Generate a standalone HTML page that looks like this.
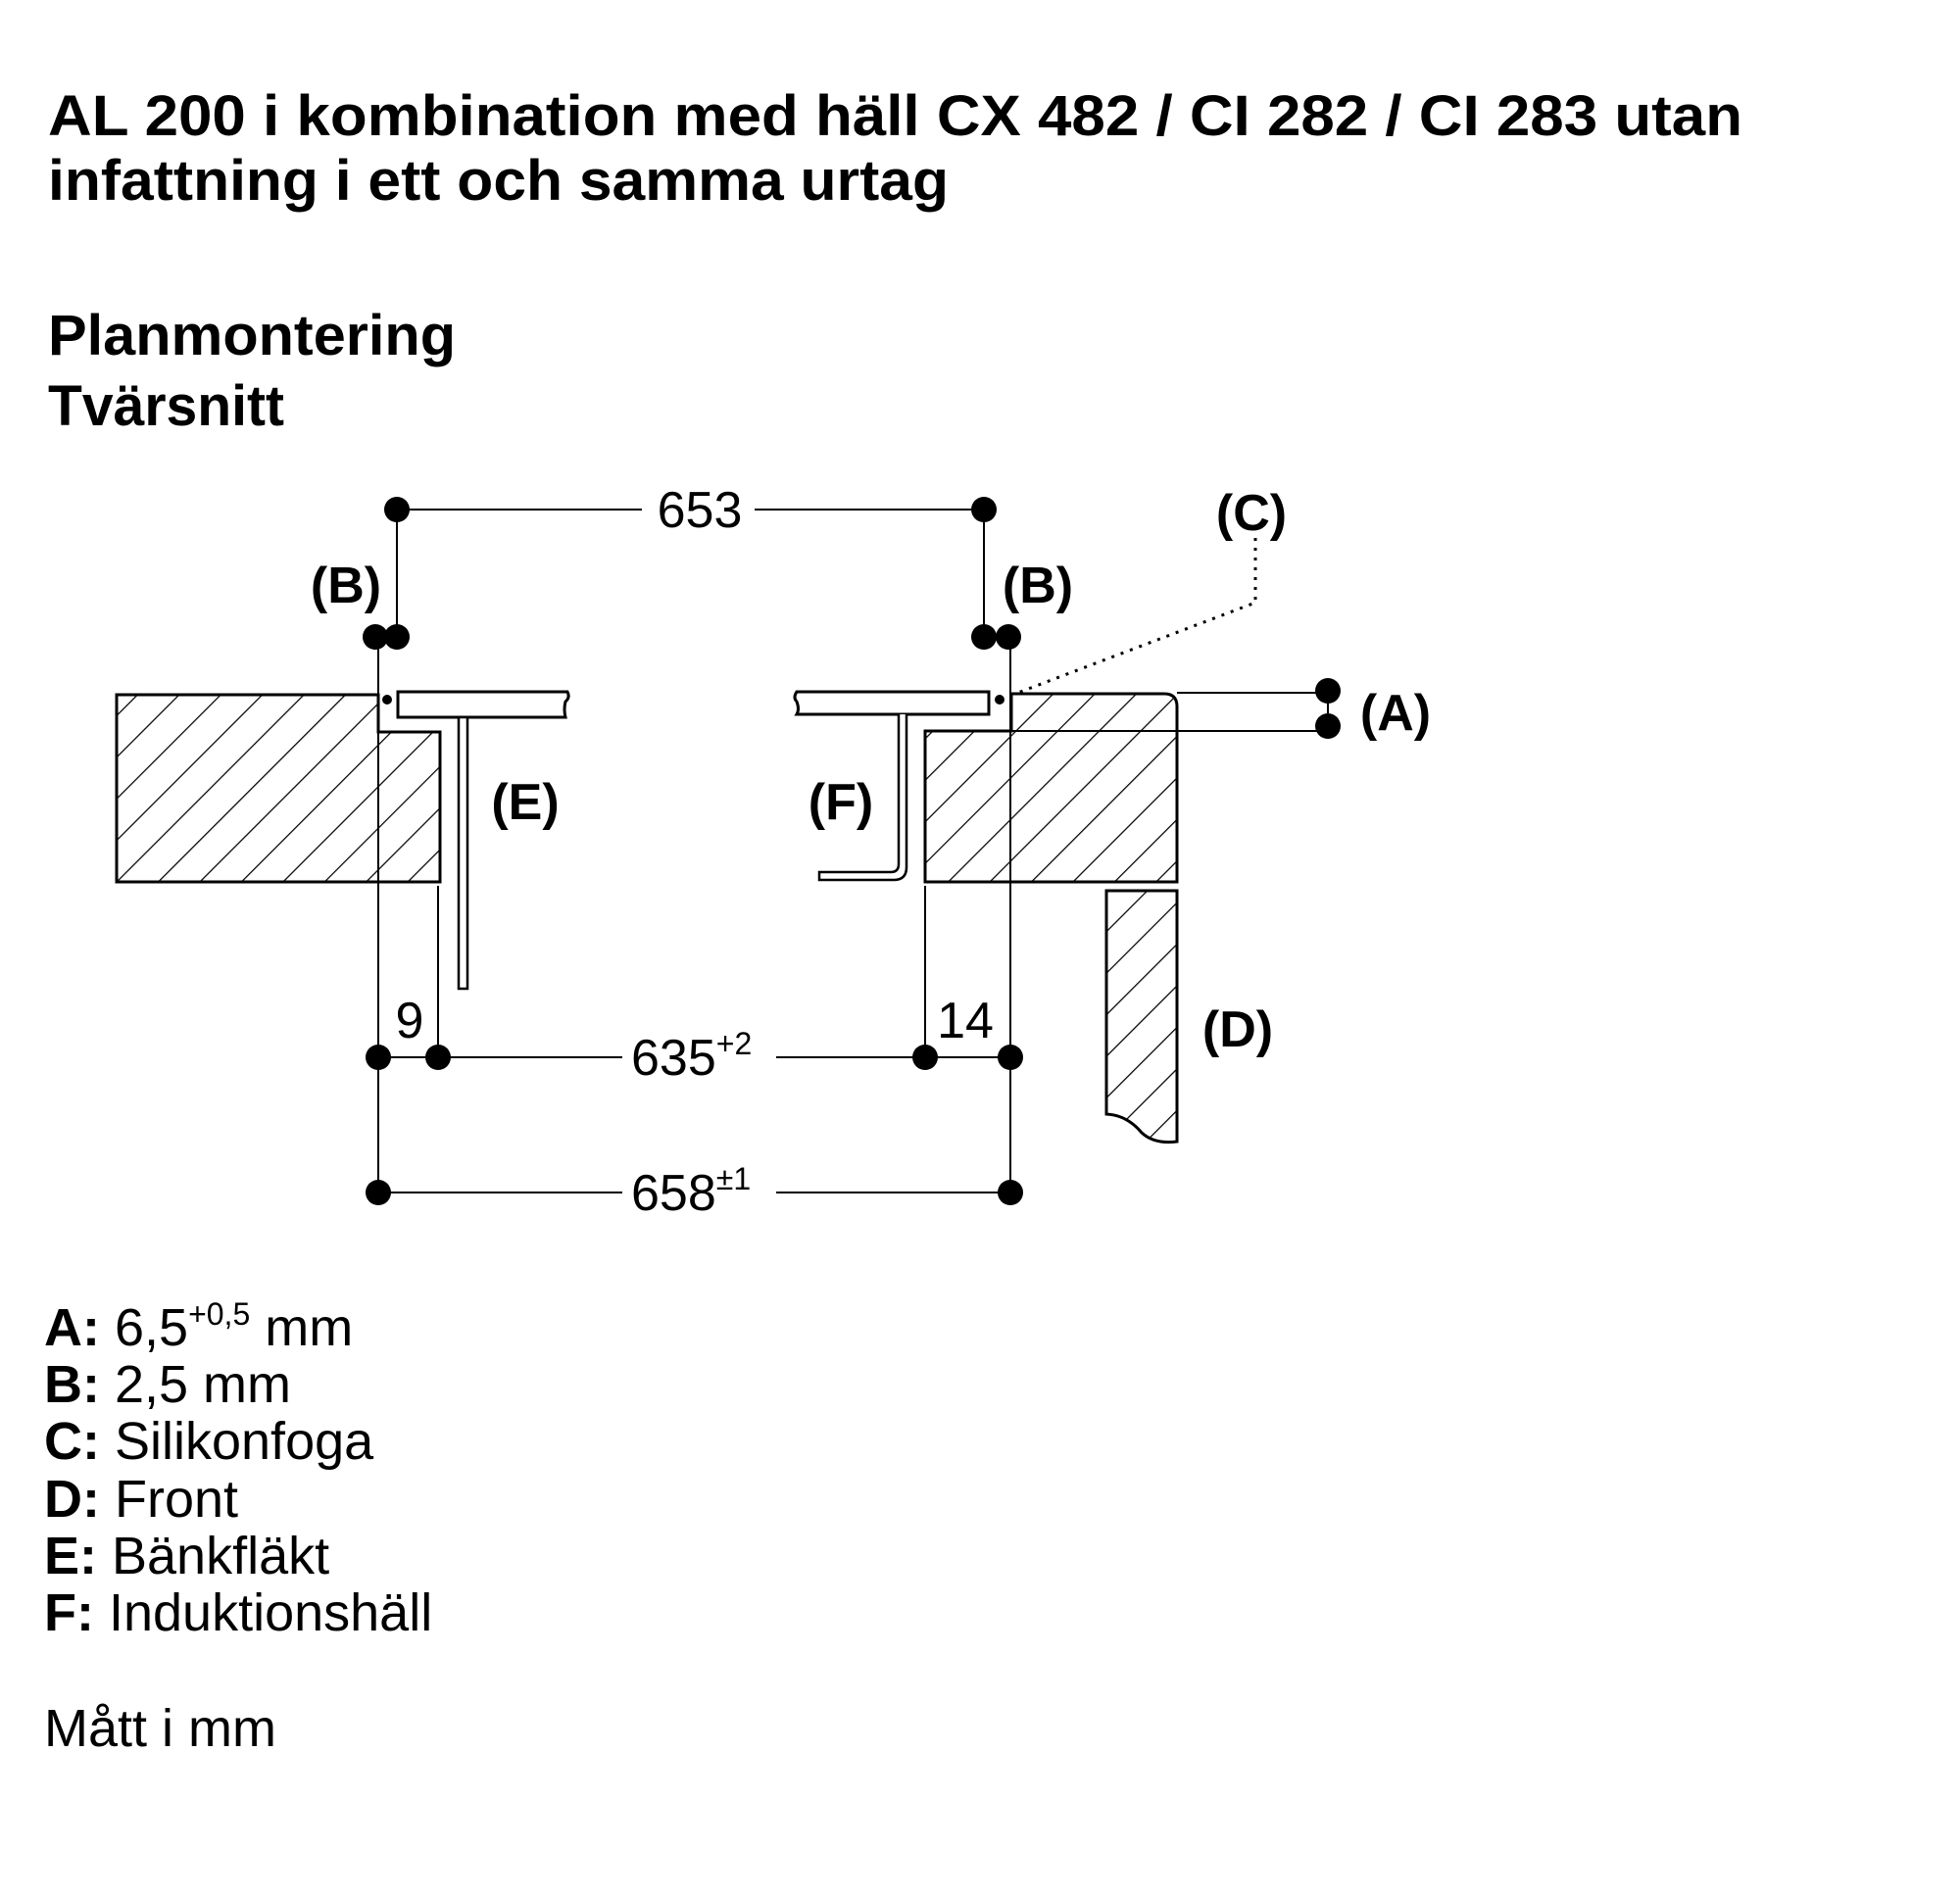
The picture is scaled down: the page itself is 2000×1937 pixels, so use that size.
<!DOCTYPE html>
<html><head><meta charset="utf-8"><style>html,body{margin:0;padding:0;background:#fff}svg{display:block}</style></head>
<body>
<svg width="2000" height="1937" viewBox="0 0 2000 1937" xmlns="http://www.w3.org/2000/svg" font-family="Liberation Sans, Arial, sans-serif">
<defs>
<pattern id="h" patternUnits="userSpaceOnUse" width="30" height="30" patternTransform="rotate(45)">
<line x1="0" y1="0" x2="0" y2="30" stroke="#000" stroke-width="2.5"/>
</pattern>
</defs>
<rect width="2000" height="1937" fill="#fff"/>
<g font-weight="bold" fill="#000">
<text x="49" y="138" font-size="58" textLength="1729" lengthAdjust="spacingAndGlyphs">AL 200 i kombination med häll CX 482 / CI 282 / CI 283 utan</text>
<text x="49" y="204" font-size="58" textLength="919" lengthAdjust="spacingAndGlyphs">infattning i ett och samma urtag</text>
<text x="49" y="362" font-size="58" textLength="416" lengthAdjust="spacingAndGlyphs">Planmontering</text>
<text x="49" y="434" font-size="58" textLength="241" lengthAdjust="spacingAndGlyphs">Tvärsnitt</text>
</g>

<path d="M119,709 L386,709 L386,747 L449,747 L449,900 L119,900 Z" fill="url(#h)" stroke="#000" stroke-width="3"/>
<path d="M944,746 L1032,746 L1032,708 L1188,708 Q1201,708 1201,721 L1201,900 L944,900 Z" fill="url(#h)" stroke="#000" stroke-width="3"/>
<path d="M1129,909 L1201,909 L1201,1165 Q1178,1168 1165,1156 Q1150,1138 1129,1137 Z" fill="url(#h)" stroke="#000" stroke-width="3"/>

<path d="M406,706 L579,706 Q582,712 577,716 Q575,724 577,732 L406,732 Z" fill="#fff" stroke="#000" stroke-width="3"/>
<rect x="468" y="732" width="9" height="277" fill="#fff" stroke="#000" stroke-width="2.5"/>
<path d="M1009,706 L813,706 Q809,712 813,716 Q816,724 813,729 L1009,729 Z" fill="#fff" stroke="#000" stroke-width="3"/>
<path d="M917,729 L917,882 Q917,890 909,890 L836,890 L836,898 L912,898 Q925,898 925,885 L925,729" fill="#fff" stroke="#000" stroke-width="2.5"/>

<circle cx="395" cy="714" r="5"/>
<circle cx="1020" cy="714" r="5"/>

<g stroke="#000" stroke-width="2" fill="none">
<line x1="405" y1="520" x2="655" y2="520"/><line x1="770" y1="520" x2="1004" y2="520"/>
<line x1="405" y1="520" x2="405" y2="650"/><line x1="1004" y1="520" x2="1004" y2="650"/>
<line x1="383" y1="650" x2="405" y2="650"/><line x1="1004" y1="650" x2="1029" y2="650"/>
<line x1="386" y1="650" x2="386" y2="1217"/>
<line x1="1031" y1="650" x2="1031" y2="1217"/>
<line x1="447" y1="904" x2="447" y2="1079"/>
<line x1="944" y1="904" x2="944" y2="1079"/>
<line x1="386" y1="1079" x2="635" y2="1079"/><line x1="792" y1="1079" x2="1031" y2="1079"/>
<line x1="386" y1="1217" x2="635" y2="1217"/><line x1="792" y1="1217" x2="1031" y2="1217"/>
<line x1="1201" y1="707" x2="1355" y2="707"/>
<line x1="1032" y1="746" x2="1355" y2="746"/>
<line x1="1355" y1="707" x2="1355" y2="741"/>
<polyline points="1281,549 1281,615 1036,708" stroke-dasharray="3,7" stroke-width="3"/>
</g>

<g fill="#000">
<circle cx="405" cy="520" r="13"/><circle cx="1004" cy="520" r="13"/>
<circle cx="383" cy="650" r="13"/><circle cx="405" cy="650" r="13"/>
<circle cx="1004" cy="650" r="13"/><circle cx="1029" cy="650" r="13"/>
<circle cx="386" cy="1079" r="13"/><circle cx="447" cy="1079" r="13"/>
<circle cx="944" cy="1079" r="13"/><circle cx="1031" cy="1079" r="13"/>
<circle cx="386" cy="1217" r="13"/><circle cx="1031" cy="1217" r="13"/>
<circle cx="1355" cy="705" r="13"/><circle cx="1355" cy="741" r="13"/>
</g>

<g fill="#000" font-size="52">
<text x="714" y="538" text-anchor="middle">653</text>
<text x="418" y="1059" text-anchor="middle">9</text>
<text x="985" y="1059" text-anchor="middle">14</text>
<text x="644" y="1097">635<tspan font-size="32" dy="-21">+2</tspan></text>
<text x="644" y="1235">658<tspan font-size="32" dy="-21">±1</tspan></text>
</g>
<g fill="#000" font-size="52" font-weight="bold" text-anchor="middle">
<text x="353" y="615">(B)</text>
<text x="1059" y="615">(B)</text>
<text x="1277" y="541">(C)</text>
<text x="536" y="836">(E)</text>
<text x="858" y="836">(F)</text>
<text x="1424" y="745">(A)</text>
<text x="1263" y="1068">(D)</text>
</g>

<g fill="#000" font-size="54">
<text x="45" y="1373"><tspan font-weight="bold">A:</tspan> 6,5<tspan font-size="32" dy="-21">+0,5</tspan><tspan dy="21"> mm</tspan></text>
<text x="45" y="1431"><tspan font-weight="bold">B:</tspan> 2,5 mm</text>
<text x="45" y="1489"><tspan font-weight="bold">C:</tspan> Silikonfoga</text>
<text x="45" y="1548"><tspan font-weight="bold">D:</tspan> Front</text>
<text x="45" y="1606"><tspan font-weight="bold">E:</tspan> Bänkfläkt</text>
<text x="45" y="1664"><tspan font-weight="bold">F:</tspan> Induktionshäll</text>
<text x="45" y="1782">Mått i mm</text>
</g>
</svg>
</body></html>
